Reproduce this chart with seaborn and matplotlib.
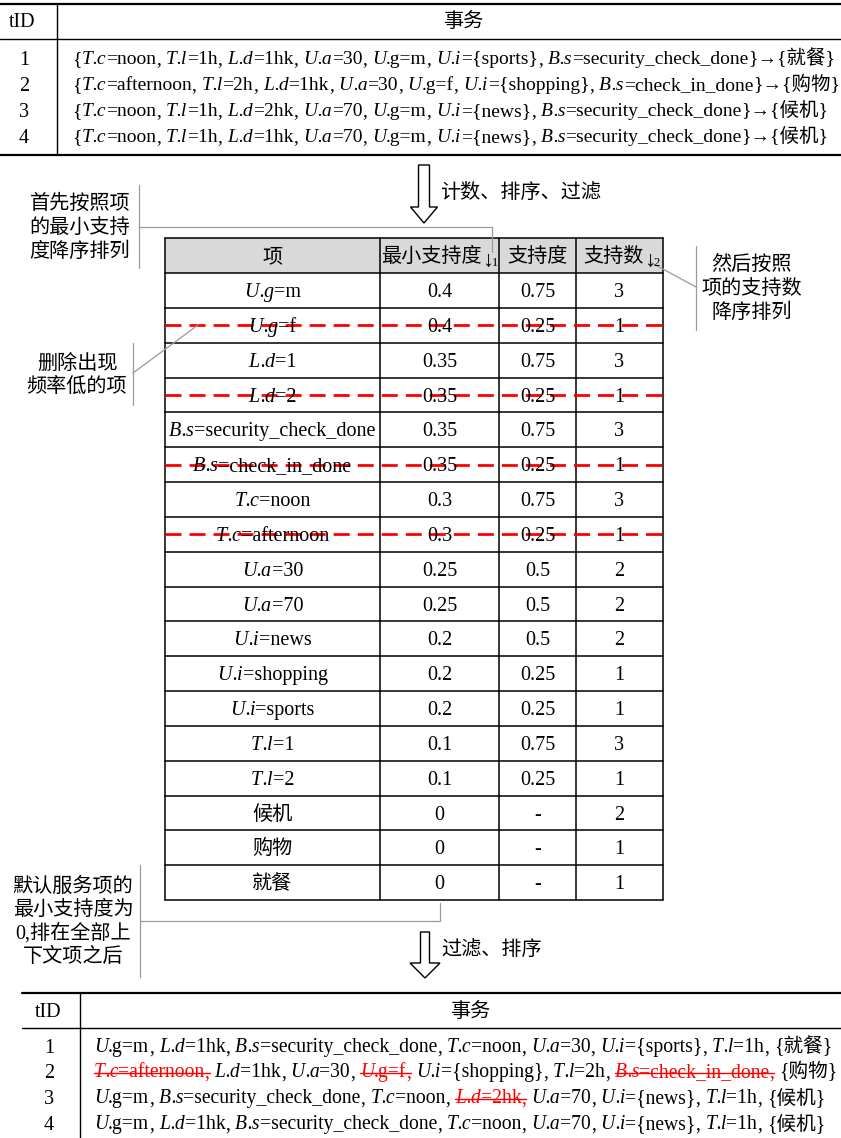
import matplotlib
matplotlib.use("Agg")
import matplotlib.pyplot as plt
from matplotlib.patches import Polygon, Rectangle
import pandas as pd
import seaborn as sns

# ---- data ----
tx_ids = ["1", "2", "3", "4"]
tx_items = [
    ["T.c=noon", "T.l=1h", "L.d=1hk", "U.a=30", "U.g=m", "U.i={sports}", "B.s=security_check_done"],
    ["T.c=afternoon", "T.l=2h", "L.d=1hk", "U.a=30", "U.g=f", "U.i={shopping}", "B.s=check_in_done"],
    ["T.c=noon", "T.l=1h", "L.d=2hk", "U.a=70", "U.g=m", "U.i={news}", "B.s=security_check_done"],
    ["T.c=noon", "T.l=1h", "L.d=1hk", "U.a=70", "U.g=m", "U.i={news}", "B.s=security_check_done"],
]
tx_service = ["就餐", "购物", "候机", "候机"]

items = ["U.g=m", "U.g=f", "L.d=1", "L.d=2", "B.s=security_check_done", "B.s=check_in_done",
         "T.c=noon", "T.c=afternoon", "U.a=30", "U.a=70", "U.i=news", "U.i=shopping",
         "U.i=sports", "T.l=1", "T.l=2", "候机", "购物", "就餐"]
min_sup = ["0.4", "0.4", "0.35", "0.35", "0.35", "0.35", "0.3", "0.3", "0.25", "0.25",
           "0.2", "0.2", "0.2", "0.1", "0.1", "0", "0", "0"]
support = ["0.75", "0.25", "0.75", "0.25", "0.75", "0.25", "0.75", "0.25", "0.5", "0.5",
           "0.5", "0.25", "0.25", "0.75", "0.25", "-", "-", "-"]
sup_count = ["3", "1", "3", "1", "3", "1", "3", "1", "2", "2", "2", "1", "1", "3", "1", "2", "1", "1"]
removed = [False, True, False, True, False, True, False, True, False, False,
           False, False, False, False, False, False, False, False]

sorted_items = [
    ["U.g=m", "L.d=1hk", "B.s=security_check_done", "T.c=noon", "U.a=30", "U.i={sports}", "T.l=1h"],
    ["T.c=afternoon", "L.d=1hk", "U.a=30", "U.g=f", "U.i={shopping}", "T.l=2h", "B.s=check_in_done"],
    ["U.g=m", "B.s=security_check_done", "T.c=noon", "L.d=2hk", "U.a=70", "U.i={news}", "T.l=1h"],
    ["U.g=m", "L.d=1hk", "B.s=security_check_done", "T.c=noon", "U.a=70", "U.i={news}", "T.l=1h"],
]
sorted_removed = [[], ["T.c=afternoon", "U.g=f", "B.s=check_in_done"], ["L.d=2hk"], []]

df = pd.DataFrame({"项": items, "最小支持度": min_sup, "支持度": support,
                   "支持数": sup_count, "removed": removed})

# ---- style ----
sns.set_theme(style="white")
plt.rcParams['font.family'] = ['Liberation Serif', 'Noto Sans CJK SC', 'DejaVu Sans']
plt.rcParams['lines.scale_dashes'] = False

fig = plt.figure(figsize=(8.41, 11.38), dpi=100)
ax = fig.add_axes([0, 0, 1, 1])
ax.set_xlim(0, 841)
ax.set_ylim(1138, 0)
ax.axis('off')
renderer = fig.canvas.get_renderer()

FS = 14.5
RED = '#ff0000'
GREY = '#9a9a9a'


def base(size):
    return 0.33 * size * 100 / 72


def adv(s, italic=False, size=FS):
    kw = dict(fontsize=size, style='italic' if italic else 'normal')
    t1 = ax.text(0, 0, '|' + s + '|', **kw)
    t2 = ax.text(0, 0, '||', **kw)
    w = t1.get_window_extent(renderer).width - t2.get_window_extent(renderer).width
    t1.remove()
    t2.remove()
    return w


def item_runs(item, color='black', strike=False, upright_g=True):
    key, val = item.split('=', 1)
    obj, attr = key.split('.')
    if upright_g and attr == 'g':
        parts = [(obj, True), ('.' + attr + '=' + val, False)]
    else:
        parts = [(obj, True), ('.' + attr, True), ('=' + val, False)]
    return [(s, it, color, strike) for s, it in parts]


def runs_width(runs, size=FS):
    return sum(adv(s, it, size) for s, it, c, st in runs)


def draw_runs(x, y, runs, ha='left', size=FS):
    ws = [adv(s, it, size) for s, it, c, st in runs]
    if ha == 'center':
        x -= sum(ws) / 2
    for (s, it, c, st), w in zip(runs, ws):
        if s.strip():
            ax.text(x, y + base(size), s, fontsize=size, style='italic' if it else 'normal',
                    color=c, ha='left', va='baseline')
        if st:
            ax.plot([x, x + w], [y + 1.5, y + 1.5], color=c, lw=1.0)
        x += w
    return x


def ctext(x, y, s, size=FS, color='black', ha='center'):
    ax.text(x, y + base(size), s, fontsize=size, color=color, ha=ha, va='baseline')


def block_arrow(xc, top, sh, head_y, hh, tip):
    pts = [(xc - sh, top), (xc + sh, top), (xc + sh, head_y), (xc + hh, head_y),
           (xc, tip), (xc - hh, head_y), (xc - sh, head_y)]
    ax.add_patch(Polygon(pts, closed=True, facecolor='white', edgecolor='black', lw=1.0))


# ---- top table ----
ax.plot([0, 841], [4, 4], color='black', lw=1.6)
ax.plot([0, 841], [39, 39], color='black', lw=1.0)
ax.plot([0, 841], [155, 155], color='black', lw=1.6)
ax.plot([57, 57], [4, 155], color='black', lw=1.0)
ctext(22, 20, "tID")
ctext(463, 20, "事务")
top_rows = [58, 84, 110, 136]
top_runs = []
for i in range(len(tx_ids)):
    runs = [("{", False, 'black', False)]
    for j, it in enumerate(tx_items[i]):
        runs += item_runs(it)
        if j < len(tx_items[i]) - 1:
            runs += [(",", False, 'black', False), (" ", False, 'black', False)]
    runs += [("}→{" + tx_service[i] + "}", False, 'black', False)]
    top_runs.append(runs)
fs_top = FS * 765 / max(runs_width(r) for r in top_runs)
for i, y in enumerate(top_rows):
    ctext(24, y, tx_ids[i])
    draw_runs(72, y, top_runs[i], size=fs_top)

# ---- arrow 1 ----
block_arrow(424, 165, 5.5, 207, 13.5, 223)
ctext(440, 191, "计数、排序、过滤", ha='left')

# ---- middle table ----
col_edges = [165, 380, 499, 576, 663]
head_top, head_bot, tab_bot = 238, 273, 900
row_h = (tab_bot - head_bot) / len(df)
ax.add_patch(Rectangle((col_edges[0], head_top), col_edges[-1] - col_edges[0],
                       head_bot - head_top, facecolor='#d9d9d9', edgecolor='none'))
for xe in col_edges:
    ax.plot([xe, xe], [head_top, tab_bot], color='black', lw=1.1)
ax.plot([col_edges[0], col_edges[-1]], [head_top, head_top], color='black', lw=1.1)
for k in range(len(df) + 1):
    yy = head_bot + k * row_h
    ax.plot([col_edges[0], col_edges[-1]], [yy, yy], color='black', lw=1.1)

centers = [(col_edges[c] + col_edges[c + 1]) / 2 for c in range(4)]
hy = (head_top + head_bot) / 2
ctext(centers[0], hy, "项")
xe = draw_runs(centers[1] - 8, hy, [("最小支持度", False, 'black', False)], ha='center')
ctext(xe + 0.5, hy + 3, "↓", size=16, ha='left')
ctext(xe + 10, hy + 6, "1", size=9, ha='left')
ctext(centers[2], hy, "支持度")
xe = draw_runs(centers[3] - 6, hy, [("支持数", False, 'black', False)], ha='center')
ctext(xe + 0.5, hy + 3, "↓", size=16, ha='left')
ctext(xe + 10, hy + 6, "2", size=9, ha='left')

for k, row in df.iterrows():
    yc = head_bot + (k + 0.5) * row_h
    if '=' in row["项"]:
        draw_runs(centers[0], yc, item_runs(row["项"], upright_g=False), ha='center')
    else:
        ctext(centers[0], yc, row["项"])
    ctext(centers[1], yc, row["最小支持度"])
    ctext(centers[2], yc, row["支持度"])
    ctext(centers[3], yc, row["支持数"])
    if row["removed"]:
        ax.plot([col_edges[0], col_edges[-1]], [yc, yc], color=RED, lw=2.0,
                ls=(0, (11.5, 5.8)))

# ---- annotations ----
for j, s in enumerate(["首先按照项", "的最小支持", "度降序排列"]):
    ctext(80, 202 + 24 * j, s)
ax.plot([139, 139], [185, 268], color=GREY, lw=0.9)
ax.plot([139, 492, 492], [227, 227, 252], color=GREY, lw=0.9)

for j, s in enumerate(["然后按照", "项的支持数", "降序排列"]):
    ctext(752, 263 + 24 * j, s)
ax.plot([696, 696], [246, 330], color=GREY, lw=0.9)
ax.plot([650, 696], [262, 287], color=GREY, lw=0.9)

for j, s in enumerate(["删除出现", "频率低的项"]):
    ctext(77, 362 + 23 * j, s)
ax.plot([133, 133], [343, 405], color=GREY, lw=0.9)
ax.plot([133, 198], [373, 325], color=GREY, lw=0.9)

for j, s in enumerate(["默认服务项的", "最小支持度为", "0,排在全部上", "下文项之后"]):
    ctext(73, 885 + 23.5 * j, s)
ax.plot([140, 140], [865, 977], color=GREY, lw=0.9)
ax.plot([140, 440, 440], [921, 921, 903], color=GREY, lw=0.9)

# ---- arrow 2 ----
block_arrow(425, 932, 4.5, 963, 15, 978)
ctext(441, 948, "过滤、排序", ha='left')

# ---- bottom table ----
ax.plot([22, 841], [993, 993], color='black', lw=1.6)
ax.plot([22, 841], [1028, 1028], color='black', lw=1.0)
ax.plot([80, 80], [993, 1138], color='black', lw=1.0)
ctext(48, 1010, "tID")
ctext(470, 1010, "事务")
bot_rows = [1046, 1071, 1097, 1123]
bot_runs = []
for i in range(len(tx_ids)):
    runs = []
    for it in sorted_items[i]:
        if it in sorted_removed[i]:
            runs += item_runs(it, color=RED, strike=True)
            runs += [(",", False, RED, True)]
        else:
            runs += item_runs(it)
            runs += [(",", False, 'black', False)]
        runs += [(" ", False, 'black', False)]
    runs += [("{" + tx_service[i] + "}", False, 'black', False)]
    bot_runs.append(runs)
fs_bot = FS * 743 / max(runs_width(r) for r in bot_runs)
for i, y in enumerate(bot_rows):
    ctext(49, y, tx_ids[i])
    draw_runs(94, y, bot_runs[i], size=fs_bot)

fig.savefig("out.png", dpi=100)
